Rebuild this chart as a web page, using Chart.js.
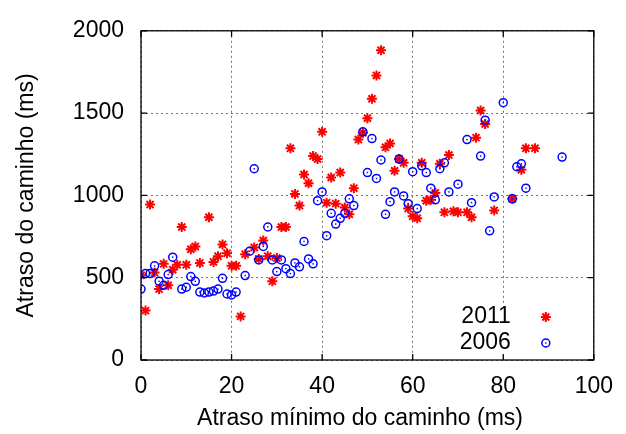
<!DOCTYPE html>
<html>
<head>
<meta charset="utf-8">
<script src="https://cdn.jsdelivr.net/npm/chart.js@4.4.1/dist/chart.umd.min.js"></script>
<style>
  html, body { margin: 0; padding: 0; background: #fff; }
  #wrap { width: 626px; height: 434px; }
</style>
</head>
<body>
<div id="wrap"><canvas id="grafico" width="626" height="434"></canvas></div>
<script>
// ── DADOS ──────────────────────────────────────
const x2011 = [0, 1, 2, 3, 4, 5, 6, 7, 8, 9, 10, 11, 12, 13, 15, 16, 17, 18, 19, 20,
  21, 22, 23, 25, 26, 27, 28, 29, 30, 31, 32, 33, 34, 35, 36, 37, 38, 39, 40, 41,
  42, 43, 44, 45, 46, 47, 48, 49, 50, 51, 52, 53, 54, 55, 56, 57, 58, 59, 60, 61,
  62, 63, 64, 65, 66, 67, 68, 69, 70, 72, 73, 74, 75, 76, 78, 82, 84, 85, 87];
const y2011 = [515, 300, 944, 531, 431, 584, 454, 549, 578, 808, 578, 673, 690, 590, 867, 596, 631, 702, 649, 572,
  572, 265, 643, 684, 614, 726, 631, 478, 619, 808, 808, 1286, 1009, 938, 1127, 1074, 1239, 1221, 1386, 956,
  1109, 950, 1139, 926, 885, 1044, 1339, 1381, 1469, 1587, 1729, 1882, 1292, 1316, 1150, 1221, 1198, 920, 873, 861,
  1198, 968, 973, 1015, 1192, 897, 1245, 903, 897, 897, 867, 1351, 1516, 1434, 909, 979, 1156, 1286, 1286];

const x2006 = [0, 1, 2, 3, 4, 5, 6, 7, 9, 10, 11, 12, 13, 14, 15, 16, 17, 18, 19, 20,
  21, 23, 24, 25, 26, 27, 28, 29, 30, 31, 32, 33, 34, 35, 36, 37, 38, 39, 40, 41,
  42, 43, 44, 45, 46, 47, 49, 50, 51, 52, 53, 54, 55, 56, 57, 58, 59, 60, 61, 62,
  63, 64, 65, 66, 67, 68, 70, 72, 73, 75, 76, 77, 78, 80, 82, 83, 84, 85, 93];
const y2006 = [431, 525, 525, 572, 478, 454, 519, 625, 431, 442, 507, 478, 413, 407, 413, 419, 431, 496, 401, 395,
  413, 513, 661, 1162, 608, 690, 808, 608, 537, 608, 555, 525, 590, 566, 720, 614, 584, 968, 1021, 755,
  891, 826, 861, 891, 979, 938, 1386, 1139, 1345, 1103, 1215, 885, 962, 1021, 1221, 997, 950, 1144, 920, 1180,
  1139, 1044, 973, 1162, 1198, 1021, 1068, 1339, 956, 1239, 1457, 785, 991, 1563, 979, 1174, 1192, 1044, 1233];

const xTicks = [0, 20, 40, 60, 80, 100];
const yTicks = [0, 500, 1000, 1500, 2000];
const legendLabels = ['2011', '2006'];

const FONTE = '"Liberation Sans", Arial, Helvetica, sans-serif';

// ── PLUGIN: moldura estilo gnuplot ─────────────
const molduraGnuplot = {
  id: 'molduraGnuplot',
  beforeDatasetsDraw(chart) {
    const { ctx, chartArea: a } = chart;
    // fundo branco da legenda (tapa a grade)
    ctx.save();
    ctx.fillStyle = '#fff';
    ctx.fillRect(a.right - 142, a.bottom - 57, 117, 53);
    ctx.restore();
  },
  afterDatasetsDraw(chart) {
    const { ctx, chartArea: a, scales } = chart;
    ctx.save();

    // pontinho central dos círculos de 2006
    const meta06 = chart.getDatasetMeta(1);
    ctx.fillStyle = '#0000ff';
    meta06.data.forEach(p => ctx.fillRect(p.x - 0.7, p.y - 0.7, 1.4, 1.4));

    // borda
    ctx.strokeStyle = '#000';
    ctx.lineWidth = 1.3;
    ctx.strokeRect(a.left, a.top, a.right - a.left, a.bottom - a.top);

    // marcas dos ticks (para dentro, nos quatro lados)
    const tl = 6;
    ctx.beginPath();
    xTicks.forEach(v => {
      const px = scales.x.getPixelForValue(v);
      ctx.moveTo(px, a.bottom); ctx.lineTo(px, a.bottom - tl);
      ctx.moveTo(px, a.top);    ctx.lineTo(px, a.top + tl);
    });
    yTicks.forEach(v => {
      const py = scales.y.getPixelForValue(v);
      ctx.moveTo(a.left, py);  ctx.lineTo(a.left + tl, py);
      ctx.moveTo(a.right, py); ctx.lineTo(a.right - tl, py);
    });
    ctx.stroke();

    // legenda
    ctx.font = '23px ' + FONTE;
    ctx.textAlign = 'right';
    ctx.textBaseline = 'middle';
    const rows = [a.bottom - 43, a.bottom - 17];
    chart.data.datasets.forEach((ds, i) => {
      const y = rows[i];
      ctx.fillStyle = '#000';
      ctx.fillText(legendLabels[i], a.right - 83, y);
      ctx.strokeStyle = ds.borderColor;
      ctx.fillStyle = 'rgba(0,0,0,0)';
      ctx.lineWidth = ds.pointBorderWidth;
      Chart.helpers.drawPoint(ctx, {
        pointStyle: ds.pointStyle, radius: ds.pointRadius,
        borderWidth: ds.pointBorderWidth, rotation: 0
      }, a.right - 48, y);
      if (i === 1) {
        ctx.fillStyle = ds.borderColor;
        ctx.fillRect(a.right - 48 - 0.7, y - 0.7, 1.4, 1.4);
      }
    });

    // título do eixo x
    ctx.fillStyle = '#000';
    ctx.textAlign = 'center';
    ctx.fillText('Atraso mínimo do caminho (ms)', a.left + 219, a.bottom + 59);

    ctx.restore();
  }
};

// ── GRÁFICO ────────────────────────────────────
const grade = { color: 'rgba(0,0,0,0.55)', lineWidth: 1, drawTicks: false };
const semVirgula = v => String(v);

new Chart(document.getElementById('grafico').getContext('2d'), {
  type: 'scatter',
  data: {
    datasets: [
      {
        label: '2011',
        data: x2011.map((x, i) => ({ x, y: y2011[i] })),
        pointStyle: 'star',
        pointRadius: 5,
        pointBorderWidth: 2,
        borderColor: '#ff0000',
        backgroundColor: 'rgba(0,0,0,0)',
        order: 2
      },
      {
        label: '2006',
        data: x2006.map((x, i) => ({ x, y: y2006[i] })),
        pointStyle: 'circle',
        pointRadius: 4,
        pointBorderWidth: 1.5,
        borderColor: '#0000ff',
        backgroundColor: 'rgba(0,0,0,0)',
        order: 1
      }
    ]
  },
  options: {
    responsive: false,
    animation: false,
    devicePixelRatio: 1,
    layout: { padding: { top: 21, right: 26, left: 0, bottom: 0 } },
    plugins: { legend: { display: false }, tooltip: { enabled: false } },
    scales: {
      x: {
        type: 'linear', min: 0, max: 100,
        afterFit: s => { s.height = 74; },
        afterBuildTicks: s => { s.ticks = xTicks.map(v => ({ value: v })); },
        ticks: { color: '#000', font: { family: FONTE, size: 23 }, padding: 13, maxRotation: 0, callback: semVirgula },
        grid: grade,
        border: { display: false, dash: [2, 3] }
      },
      y: {
        type: 'linear', min: 0, max: 2000,
        afterFit: s => { s.width = 141; },
        afterBuildTicks: s => { s.ticks = yTicks.map(v => ({ value: v })); },
        ticks: { color: '#000', font: { family: FONTE, size: 23 }, padding: 17, callback: semVirgula },
        grid: grade,
        border: { display: false, dash: [2, 3] },
        title: {
          display: true, text: 'Atraso do caminho (ms)', color: '#000',
          font: { family: FONTE, size: 23 }, padding: { top: 13, bottom: 0 }
        }
      }
    }
  },
  plugins: [molduraGnuplot]
});
</script>
</body>
</html>
